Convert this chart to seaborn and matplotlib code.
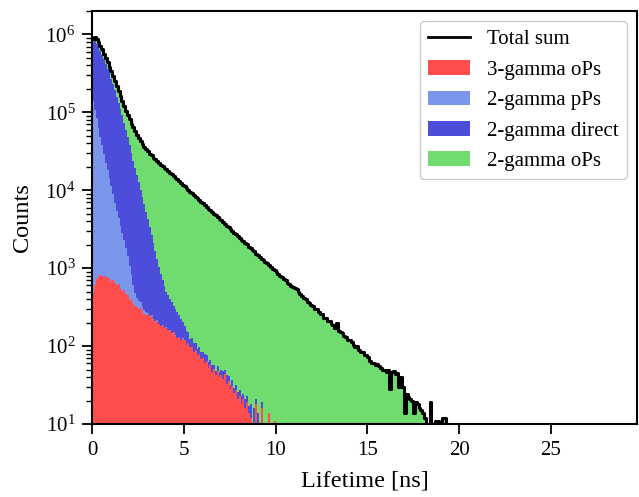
import numpy as np
import pandas as pd
import matplotlib
matplotlib.use("Agg")
import matplotlib.pyplot as plt
from matplotlib.lines import Line2D
from matplotlib.patches import Patch
import seaborn as sns

# Histogram bin width of the lifetime spectrum [ns]; bins start at 0 ns
BIN_WIDTH = 0.1

# Counts per 0.1 ns bin for each simulated component
three_gamma_ops = [
    480, 610, 720, 790, 810, 800, 770, 790, 740, 720,
    680, 700, 640, 600, 620, 560, 510, 530, 470, 450,
    390, 400, 360, 330, 320, 300, 310, 280, 260, 250,
    255, 235, 240, 215, 205, 210, 190, 180, 185, 170,
    172, 160, 162, 145, 150, 135, 126, 130, 118, 125,
    120, 104, 108, 96, 98, 84, 88, 74, 78, 68,
    70, 60, 64, 52, 58, 47, 51, 42, 48, 40,
    43, 38, 44, 33, 36, 28, 31, 25, 27, 21,
    23, 18, 21, 16, 19, 14, 12, 6, 4, 18,
    5, 3, 16, 4, 3, 5, 14, 2, 3, 11,
]

two_gamma_pps = [
    141000, 107000, 83200, 63100, 47900, 37200, 28200, 21900, 17400, 13500,
    10500, 8130, 6310, 4900, 3800, 2950, 2290, 1740, 1320, 977,
    676, 427, 251, 151, 100, 79, 56, 40, 28, 20,
    14, 10, 8, 6, 5, 4, 4, 3, 3, 2,
    2, 3, 1, 2, 1, 2, 1, 1, 2, 1, 1,
]

two_gamma_direct = [
    652500, 705400, 675100, 628100, 568300, 512000, 450000, 394300, 344900, 301800,
    257800, 220200, 184000, 152500, 127600, 106500, 88400, 71830, 57110, 46470,
    36930, 29370, 23390, 19020, 15080, 12220, 9630, 7810, 6320, 4980,
    4000, 3145, 2440, 1870, 1450, 1106, 856, 668, 520, 417,
    327, 284, 235, 216, 180, 165, 148, 120, 104, 78,
    61, 54, 45, 28, 28, 24, 22, 19, 20, 16,
    15, 18, 13, 11, 9, 10, 7, 6, 8, 6,
    7, 10, 5, 9, 5, 4, 6, 4, 5, 5,
    4, 5, 3, 5, 4, 3, 6, 4, 12, 3,
    9, 2, 3, 5, 2, 1,
]

two_gamma_ops = [
    90000, 105000, 110000, 108000, 102000, 95000, 88000, 81000, 75000, 70000,
    66000, 62500, 59500, 57000, 54500, 52300, 50200, 48300, 46500, 44800,
    43100, 41500, 40000, 38400, 36000, 34300, 32700, 30800, 29700, 28600,
    27300, 26100, 25400, 24200, 23400, 22100, 21300, 20500, 19700, 18900,
    18100, 17250, 16450, 15600, 14900, 14120, 13480, 12790, 12210, 11580,
    11060, 10480, 10010, 9480, 9060, 8580, 8190, 7750, 7410, 7010,
    6690, 6330, 6050, 5720, 5470, 5170, 4960, 4700, 4490, 4250,
    4050, 3810, 3660, 3450, 3300, 3120, 2980, 2820, 2700, 2550,
    2440, 2300, 2210, 2070, 1995, 1870, 1810, 1690, 1630, 1520,
    1465, 1400, 1310, 1270, 1190, 1150, 1075, 1040, 970, 940,
    885, 852, 798, 770, 720, 698, 650, 630, 590, 580,
    560, 548, 500, 470, 445, 410, 400, 372, 362, 335,
    330, 300, 298, 270, 262, 256, 232, 230, 208, 210,
    192, 188, 172, 196, 158, 150, 147, 133, 132, 121,
    119, 114, 104, 98, 100, 88, 85, 84, 76, 77,
    72, 64, 60, 61, 58, 59, 56, 52, 49, 50,
    47, 50, 28, 46, 48, 44, 45, 30, 40, 30,
    14, 24, 22, 21, 20, 14, 19, 18, 16, 15,
    14, 12, 8, 7, 19, 7, 9, 11, 11, 6,
    7, 12, 12, 5, 3,
]

labels = ["3-gamma oPs", "2-gamma pPs", "2-gamma direct", "2-gamma oPs"]
colors = ["#ff4d4d", "#7a96ea", "#4d4ddc", "#70dc70"]

n_bins = len(two_gamma_ops)
edges = [round(i * BIN_WIDTH, 1) for i in range(n_bins + 1)]
centers = [e + BIN_WIDTH / 2 for e in edges[:-1]]


def on_grid(values):
    """Place a component's counts on the common bin grid (empty bins = 0)."""
    out = np.zeros(n_bins)
    out[: len(values)] = values
    return out


series = [three_gamma_ops, two_gamma_pps, two_gamma_direct, two_gamma_ops]
counts = [on_grid(s) for s in series]
total = np.sum(counts, axis=0)

df = pd.concat(
    [pd.DataFrame({"lifetime": centers, "counts": c, "component": lab})
     for c, lab in zip(counts, labels)],
    ignore_index=True,
)

plt.rcParams["font.family"] = "serif"
plt.rcParams["font.serif"] = ["Liberation Serif", "DejaVu Serif"]
plt.rcParams["mathtext.fontset"] = "custom"
plt.rcParams["mathtext.rm"] = "Liberation Serif"
plt.rcParams["mathtext.it"] = "Liberation Serif:italic"

fig = plt.figure(figsize=(6.39, 4.97), dpi=100)
ax = fig.add_axes([92 / 639, 73 / 497, (637 - 92) / 639, (424 - 11) / 497])

# seaborn stacks the last hue level at the bottom
stack_order = labels[::-1]
palette = dict(zip(labels, colors))
sns.histplot(
    data=df, x="lifetime", weights="counts", hue="component",
    hue_order=stack_order, multiple="stack", bins=edges, element="step",
    palette=palette, alpha=1, linewidth=0, legend=False, ax=ax,
)
sns.histplot(
    x=centers, weights=total, bins=edges, element="step", fill=False,
    color="black", linewidth=2.2, ax=ax,
)

ax.set_yscale("log")
ax.set_ylim(10, 2e6)
ax.set_xlim(0, 29.7)
ax.set_xticks([0, 5, 10, 15, 20, 25])
ax.set_xlabel("Lifetime [ns]", fontsize=17.5, labelpad=8)
ax.set_ylabel("Counts", fontsize=17.5, labelpad=9)
ax.tick_params(axis="both", which="major", labelsize=15, length=7, width=1.3, pad=5)
ax.tick_params(axis="y", which="minor", length=4.3, width=1.0)
for sp in ax.spines.values():
    sp.set_linewidth(1.5)

handles = [Line2D([0], [0], color="black", lw=2, label="Total sum")]
handles += [Patch(facecolor=c, edgecolor="none", label=l) for l, c in zip(labels, colors)]
ax.legend(handles=handles, loc="upper right", fontsize=15, framealpha=1,
          edgecolor="0.8", handlelength=2.0, labelspacing=0.52)

fig.savefig("out.png", dpi=100)
